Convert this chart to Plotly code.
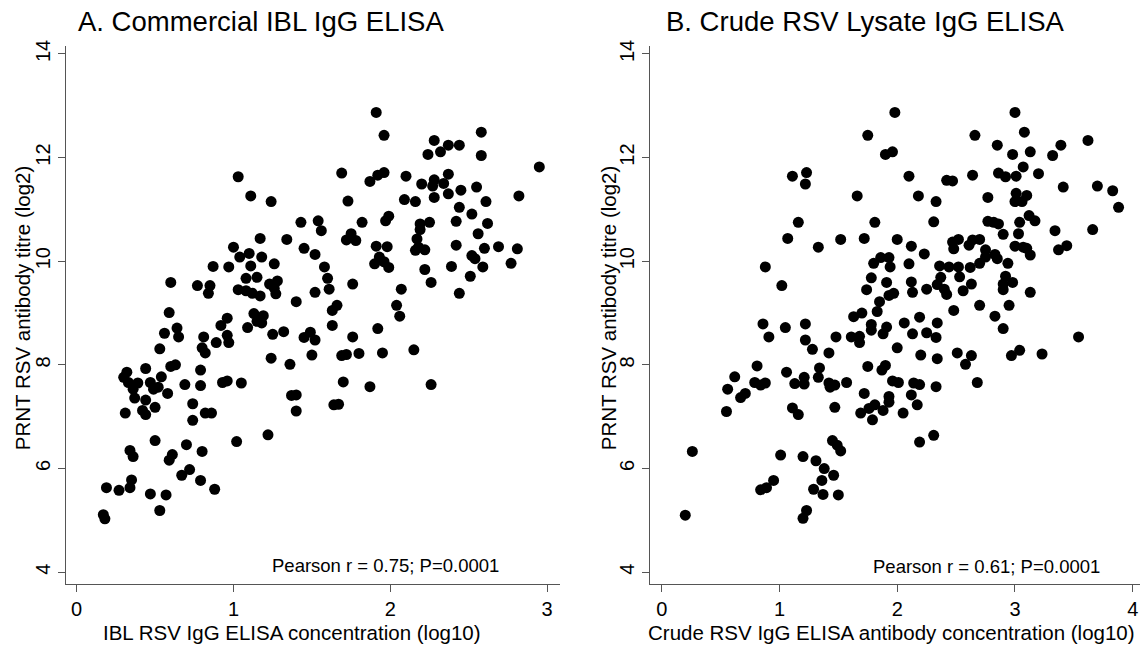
import plotly.graph_objects as go

# ---------------- data ----------------
ibl_x = [1.03,1.11,1.24,1.17,1.34,1.00,1.04,1.10,1.18,1.11,1.26,0.87,0.97,1.08,1.15,1.23,1.28,1.26,1.27,1.03,
         1.08,1.12,1.17,0.60,0.77,0.85,0.84,0.59,0.96,1.13,1.19,1.15,1.18,
         1.91,1.96,2.58,2.28,2.37,2.44,2.32,2.24,2.58,2.95,1.69,1.87,1.92,1.96,2.10,2.20,2.28,2.27,2.34,2.37,
         2.37,2.45,2.55,2.82,2.28,2.09,2.16,2.61,1.73,2.44,2.52,1.43,1.54,1.56,1.82,1.97,1.99,2.19,2.25,2.19,
         2.42,2.62,2.56,1.45,1.52,1.72,1.75,1.78,1.91,1.98,2.17,2.18,2.16,2.22,2.42,2.60,2.69,2.81,2.52,2.54,
         2.59,2.77,2.51,2.39,2.22,2.26,2.44,1.90,1.93,1.96,1.99,1.58,1.60,1.61,1.52,1.76,1.40,2.07,2.04,2.06,
         1.66,1.63,
         0.64,0.56,0.65,0.81,0.92,0.96,0.97,0.89,1.09,1.25,1.32,0.53,0.80,0.82,1.24,1.36,0.44,0.60,0.63,0.79,
         0.32,0.30,0.33,0.39,0.47,0.54,0.36,0.49,0.52,0.37,0.44,0.50,0.58,0.42,0.44,0.31,0.69,0.79,0.93,0.96,
         1.05,0.74,0.82,0.86,0.74,0.50,0.70,0.80,1.02,1.22,0.34,0.36,0.61,0.59,0.72,0.67,0.79,0.88,0.35,0.34,
         0.19,0.27,0.47,0.57,0.53,0.17,0.18,
         1.63,1.92,1.45,1.49,1.52,1.76,2.15,1.50,1.69,1.72,1.80,1.95,1.70,1.87,2.26,1.37,1.40,1.40,1.64,1.67]
ibl_y = [11.63,11.26,11.15,10.44,10.42,10.27,10.08,10.15,10.08,9.91,9.95,9.90,9.89,9.67,9.69,9.56,9.62,9.48,9.37,9.45,
         9.43,9.38,9.33,9.59,9.53,9.53,9.38,9.01,8.90,8.99,8.95,8.84,8.81,
         12.87,12.43,12.49,12.33,12.24,12.24,12.11,12.06,12.04,11.82,11.70,11.54,11.66,11.71,11.64,11.49,11.57,11.45,11.50,11.68,
         11.30,11.37,11.43,11.26,11.23,11.19,11.15,11.15,11.16,11.04,10.91,10.75,10.78,10.59,10.75,10.78,10.87,10.72,10.75,10.61,
         10.77,10.73,10.53,10.25,10.13,10.41,10.53,10.40,10.29,10.28,10.43,10.27,10.21,10.22,10.31,10.25,10.28,10.24,10.11,10.05,
         9.89,9.96,9.71,9.90,9.84,9.59,9.38,9.95,10.08,9.99,9.88,9.89,9.67,9.46,9.40,9.56,9.22,9.46,9.15,8.94,
         9.15,9.05,
         8.71,8.61,8.54,8.54,8.76,8.57,8.43,8.43,8.72,8.59,8.64,8.31,8.33,8.23,8.13,8.01,7.93,7.97,8.00,7.90,
         7.86,7.76,7.66,7.65,7.66,7.77,7.53,7.53,7.57,7.36,7.32,7.18,7.45,7.12,7.04,7.07,7.62,7.60,7.66,7.69,
         7.65,7.25,7.07,7.07,6.93,6.54,6.46,6.33,6.52,6.65,6.35,6.23,6.27,6.16,5.98,5.87,5.77,5.60,5.78,5.63,
         5.63,5.58,5.51,5.49,5.19,5.11,5.03,
         8.76,8.70,8.53,8.63,8.48,8.54,8.29,8.19,8.18,8.20,8.22,8.23,7.67,7.58,7.62,7.41,7.42,7.11,7.23,7.24]

crude_x = [1.75,1.11,1.23,1.22,1.66,1.16,1.81,1.07,1.33,1.52,1.72,0.88,1.02,1.80,1.78,1.74,1.63,1.70,1.83,1.98,
           1.90,1.96,2.00,1.86,1.93,1.94,1.91,1.85,1.93,1.97,
           3.00,3.08,2.66,2.85,2.98,3.13,3.39,3.32,3.62,2.10,2.42,2.47,2.64,2.86,2.92,3.01,3.07,3.20,3.41,3.70,
           3.83,3.88,2.18,2.33,2.77,3.01,3.10,3.00,3.06,2.31,2.77,2.82,2.86,2.90,3.04,3.03,3.12,3.17,3.34,3.66,
           3.37,3.44,3.00,3.07,3.10,3.13,2.12,2.23,2.10,2.47,2.52,2.48,2.61,2.64,2.70,2.75,2.75,2.83,2.85,2.94,
           2.36,2.44,2.52,2.62,2.70,2.53,2.37,2.63,2.34,2.40,2.42,2.56,2.25,2.12,2.13,2.92,2.90,2.98,2.90,3.13,
           2.95,2.70,2.48,2.83,2.19,2.06,2.34,
           0.86,1.05,1.22,0.91,1.22,1.28,1.48,1.42,1.61,1.68,1.68,1.78,1.78,1.88,1.91,2.00,0.81,0.62,0.56,0.67,
           0.71,0.55,0.79,0.84,0.88,1.06,1.13,1.21,1.21,1.33,1.34,1.42,1.43,1.47,1.57,1.47,1.11,1.16,1.75,1.87,
           1.90,1.72,1.96,2.01,1.93,1.93,1.88,1.81,1.76,1.69,1.79,1.45,1.49,1.52,0.26,1.01,1.20,1.31,1.38,1.46,
           1.36,1.29,1.37,1.50,0.95,0.89,0.84,1.23,1.20,0.20,
           2.90,3.54,2.13,2.25,2.33,2.20,2.34,2.51,2.63,2.58,2.97,3.04,3.23,2.68,2.14,2.19,2.33,2.12,2.17,2.05,
           2.31,2.19]
crude_y = [12.43,11.64,11.71,11.49,11.26,10.75,10.75,10.44,10.27,10.42,10.44,9.89,9.53,9.96,9.68,9.45,8.93,9.00,9.03,12.87,
           12.06,12.11,10.42,10.07,10.07,9.89,9.59,9.22,9.34,9.38,
           12.87,12.49,12.43,12.24,12.06,12.11,12.24,12.04,12.33,11.64,11.56,11.55,11.66,11.70,11.63,11.64,11.82,11.69,11.43,11.45,
           11.36,11.04,11.26,11.15,11.23,11.31,11.27,11.15,11.15,10.76,10.77,10.75,10.72,10.52,10.75,10.53,10.88,10.78,10.59,10.61,
           10.22,10.30,10.29,10.27,10.25,10.12,10.29,10.14,9.95,10.37,10.42,10.24,10.31,10.41,10.42,10.22,10.08,10.13,10.05,9.96,
           9.91,9.89,9.89,9.88,9.96,9.70,9.69,9.56,9.55,9.46,9.36,9.43,9.46,9.60,9.40,9.71,9.56,9.59,9.45,9.40,
           9.15,9.15,9.05,8.94,8.92,8.81,8.81,
           8.79,8.72,8.79,8.54,8.48,8.30,8.54,8.23,8.54,8.55,8.43,8.78,8.67,8.60,8.73,8.33,7.98,7.77,7.53,7.37,
           7.45,7.10,7.66,7.61,7.65,7.86,7.64,7.76,7.63,7.76,7.94,7.65,7.57,7.61,7.66,7.18,7.17,7.04,7.97,7.90,
           7.99,7.45,7.69,7.66,7.39,7.28,7.12,7.23,7.16,7.07,6.94,6.54,6.45,6.34,6.33,6.26,6.23,6.15,6.00,5.87,
           5.77,5.60,5.50,5.49,5.77,5.63,5.59,5.19,5.04,5.10,
           8.70,8.54,8.60,8.62,8.53,8.19,8.12,8.23,8.18,8.01,8.18,8.28,8.21,7.66,7.65,7.62,7.58,7.42,7.23,7.07,
           6.64,6.51]

y_ticks = [4, 6, 8, 10, 12, 14]
ibl_x_ticks = [0, 1, 2, 3]
crude_x_ticks = [0, 1, 2, 3, 4]

titles = ["A. Commercial IBL IgG ELISA", "B. Crude RSV Lysate IgG ELISA"]
x_titles = ["IBL RSV IgG ELISA concentration (log10)",
            "Crude RSV IgG ELISA antibody concentration (log10)"]
y_title = "PRNT RSV antibody titre (log2)"
stats = ["Pearson r = 0.75; P=0.0001", "Pearson r = 0.61; P=0.0001"]

# ---------------- figure ----------------
W, H = 1145, 646
FONT = "Liberation Sans, Arial, Helvetica, sans-serif"
AX = "#555555"

fig = go.Figure()
marker = dict(color="black", size=11, line=dict(width=0))
fig.add_trace(go.Scatter(x=ibl_x, y=ibl_y, mode="markers", marker=marker,
                         xaxis="x", yaxis="y", showlegend=False))
fig.add_trace(go.Scatter(x=crude_x, y=crude_y, mode="markers", marker=marker,
                         xaxis="x2", yaxis="y2", showlegend=False))

ydom = [62.7 / H, 1 - 40 / H]
yrange = [3.774, 14.16]

common_axis = dict(showline=True, linecolor=AX, linewidth=1, ticks="outside",
                   ticklen=7, tickcolor=AX, tickwidth=1, showgrid=False,
                   zeroline=False, tickfont=dict(size=20, color="black", family=FONT))

fig.update_layout(
    width=W, height=H,
    margin=dict(l=0, r=0, t=0, b=0),
    paper_bgcolor="white", plot_bgcolor="white",
    font=dict(family=FONT, color="black"),
    xaxis=dict(domain=[66 / W, 560 / W], range=[-0.068, 3.082],
               tickvals=ibl_x_ticks, anchor="y", **common_axis),
    yaxis=dict(domain=ydom, range=yrange, tickvals=y_ticks, tickangle=-90,
               anchor="x", **common_axis),
    xaxis2=dict(domain=[650.3 / W, 1140 / W], range=[-0.097, 4.062],
                tickvals=crude_x_ticks, anchor="y2", **common_axis),
    yaxis2=dict(domain=ydom, range=yrange, tickvals=y_ticks, tickangle=-90,
                anchor="x2", **common_axis),
)

ann = []
# panel titles
ann.append(dict(text=titles[0], x=76 / W, y=1 - 16 / H, xref="paper", yref="paper",
                xanchor="left", yanchor="middle", showarrow=False, font=dict(size=27.5)))
ann.append(dict(text=titles[1], x=664 / W, y=1 - 16 / H, xref="paper", yref="paper",
                xanchor="left", yanchor="middle", showarrow=False, font=dict(size=27.5)))
# x titles
ann.append(dict(text=x_titles[0], x=291.5 / W, y=1 - 632 / H, xref="paper", yref="paper",
                xanchor="center", yanchor="middle", showarrow=False, font=dict(size=20.5)))
ann.append(dict(text=x_titles[1], x=891.5 / W, y=1 - 632 / H, xref="paper", yref="paper",
                xanchor="center", yanchor="middle", showarrow=False, font=dict(size=20.5)))
# y titles
ann.append(dict(text=y_title, x=22 / W, y=1 - 305 / H, xref="paper", yref="paper",
                xanchor="center", yanchor="middle", textangle=-90, showarrow=False,
                font=dict(size=20.5)))
ann.append(dict(text=y_title, x=608 / W, y=1 - 305 / H, xref="paper", yref="paper",
                xanchor="center", yanchor="middle", textangle=-90, showarrow=False,
                font=dict(size=20.5)))
# statistics
ann.append(dict(text=stats[0], x=501 / W, y=1 - 565 / H, xref="paper", yref="paper",
                xanchor="right", yanchor="middle", showarrow=False, font=dict(size=18.5)))
ann.append(dict(text=stats[1], x=1102 / W, y=1 - 566 / H, xref="paper", yref="paper",
                xanchor="right", yanchor="middle", showarrow=False, font=dict(size=18.5)))
fig.update_layout(annotations=ann)

fig.write_html("out.html", config={"displayModeBar": False},
               post_script="document.body.style.margin='0px';")
